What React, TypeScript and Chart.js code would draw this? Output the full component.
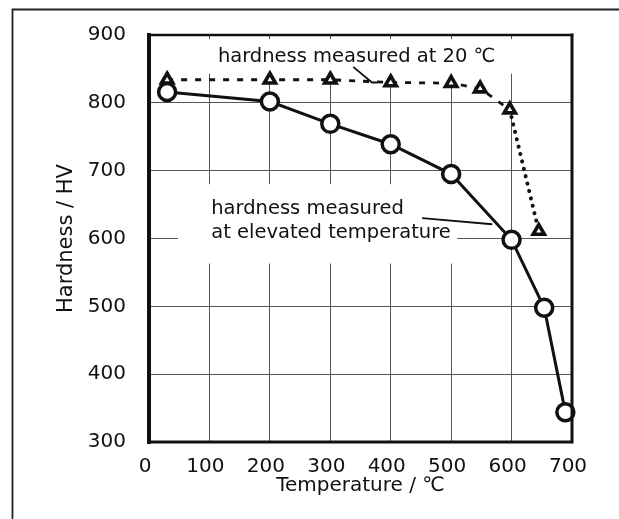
import React, { useEffect, useRef } from "react";
import { Chart, registerables } from "chart.js";

Chart.register(...registerables);

// Data (temperature in °C, hardness in HV)
const hotTemps = [30, 200, 300, 400, 500, 600, 654, 689];
const hotHardness = [816, 802, 769, 739, 695, 598, 498, 344];
const roomTemps = [30, 200, 300, 400, 500, 548, 597, 645];
const roomHardness = [834, 834, 834, 830, 829, 821, 790, 611];

const xTicks = [0, 100, 200, 300, 400, 500, 600, 700];
const yTicks = [300, 400, 500, 600, 700, 800, 900];

const xTitle = "Temperature / \u2103";
const yTitle = "Hardness / HV";
const roomLabel = ["hardness measured at 20 \u2103"];
const hotLabel = ["hardness measured", "at elevated temperature"];

const FONT = "DejaVu Sans";
const INK = "#111111";

const annotationPlugin = {
  id: "annotations",
  beforeDatasetsDraw(chart: any) {
    const { ctx } = chart;
    const xs = chart.scales.x;
    const ys = chart.scales.y;
    const px = (v: number) => xs.getPixelForValue(v);
    const py = (v: number) => ys.getPixelForValue(v);
    ctx.save();
    // white label boxes that hide the grid
    ctx.fillStyle = "#ffffff";
    ctx.fillRect(px(10), py(894), px(650) - px(10), py(843) - py(894));
    ctx.fillRect(px(48), py(680), px(510) - px(48), py(563) - py(680));
    // leader lines
    ctx.strokeStyle = INK;
    ctx.lineWidth = 1.8;
    ctx.beginPath();
    ctx.moveTo(px(338), py(853));
    ctx.lineTo(px(369), py(830));
    ctx.lineTo(px(378), py(830));
    ctx.stroke();
    ctx.beginPath();
    ctx.moveTo(px(452), py(630));
    ctx.lineTo(px(568), py(621));
    ctx.stroke();
    // texts
    ctx.fillStyle = INK;
    ctx.font = `19.5px "${FONT}"`;
    ctx.textAlign = "left";
    ctx.textBaseline = "alphabetic";
    ctx.fillText(roomLabel[0], px(114), py(860));
    ctx.fillText(hotLabel[0], px(103), py(636));
    ctx.fillText(hotLabel[1], px(103), py(601));
    ctx.restore();
  },
  afterDatasetsDraw(chart: any) {
    const { ctx, chartArea } = chart;
    const { left, right, top, bottom } = chartArea;
    ctx.save();
    ctx.strokeStyle = "#111";
    ctx.lineCap = "square";
    ctx.lineWidth = 2.5;
    ctx.beginPath();
    ctx.moveTo(left, top);
    ctx.lineTo(right, top);
    ctx.stroke();
    ctx.lineWidth = 3;
    ctx.beginPath();
    ctx.moveTo(right, top);
    ctx.lineTo(right, bottom);
    ctx.lineTo(left, bottom);
    ctx.stroke();
    ctx.lineWidth = 4;
    ctx.beginPath();
    ctx.moveTo(left, top);
    ctx.lineTo(left, bottom);
    ctx.stroke();
    // outer frame
    ctx.strokeStyle = "#222";
    ctx.lineWidth = 1.8;
    ctx.lineCap = "butt";
    ctx.beginPath();
    ctx.moveTo(12.5, chart.height);
    ctx.lineTo(12.5, 9.5);
    ctx.lineTo(chart.width, 9.5);
    ctx.stroke();
    ctx.restore();
  },
};

export default function App() {
  const canvasRef = useRef<HTMLCanvasElement | null>(null);

  useEffect(() => {
    document.body.style.margin = "0";
    const canvas = canvasRef.current;
    if (!canvas) return;
    const chart = new Chart(canvas, {
      type: "line",
      data: {
        datasets: [
          {
            label: "room",
            data: roomTemps.map((t, i) => ({ x: t, y: roomHardness[i] })),
            borderColor: INK,
            borderWidth: 2.8,
            borderDash: [6, 8],
            pointStyle: "triangle",
            pointRadius: 6.5,
            pointBorderWidth: 3.6,
            pointBackgroundColor: "#ffffff",
            pointBorderColor: INK,
            clip: false,
            segment: {
              borderDash: (c: any) => (c.p0.parsed.x >= 590 ? [0.1, 7.5] : undefined),
              borderCapStyle: (c: any) => (c.p0.parsed.x >= 590 ? "round" : undefined),
              borderWidth: (c: any) => (c.p0.parsed.x >= 590 ? 4 : undefined),
            },
          } as any,
          {
            label: "hot",
            data: hotTemps.map((t, i) => ({ x: t, y: hotHardness[i] })),
            borderColor: INK,
            borderWidth: 3,
            pointStyle: "circle",
            pointRadius: 8.5,
            pointBorderWidth: 3.5,
            pointBackgroundColor: "#ffffff",
            pointBorderColor: INK,
            clip: false,
          } as any,
        ],
      },
      options: {
        animation: false,
        responsive: false,
        events: [],
        layout: { padding: { left: 0, right: 47, top: 33, bottom: 0 } },
        plugins: { legend: { display: false }, tooltip: { enabled: false } },
        scales: {
          x: {
            type: "linear",
            min: xTicks[0],
            max: xTicks[xTicks.length - 1],
            afterBuildTicks: (s: any) => {
              s.ticks = xTicks.map((v) => ({ value: v }));
            },
            afterFit: (s: any) => {
              s.height = 77;
            },
            ticks: {
              font: { family: FONT, size: 20 },
              color: INK,
              padding: 13,
              labelOffset: -4,
              maxRotation: 0,
              autoSkip: false,
            },
            grid: { color: "#555", lineWidth: 1, drawTicks: false },
            border: { display: false },
            title: {
              display: true,
              text: xTitle,
              font: { family: FONT, size: 20 },
              color: INK,
              padding: { top: 0, bottom: 21 },
            },
          },
          y: {
            type: "linear",
            min: yTicks[0],
            max: yTicks[yTicks.length - 1],
            afterBuildTicks: (s: any) => {
              s.ticks = yTicks.map((v) => ({ value: v }));
            },
            afterFit: (s: any) => {
              s.width = 149;
            },
            ticks: {
              font: { family: FONT, size: 20 },
              color: INK,
              padding: 23,
              autoSkip: false,
            },
            grid: { color: "#555", lineWidth: 1, drawTicks: false },
            border: { display: false },
            title: {
              display: true,
              text: yTitle,
              font: { family: FONT, size: 21 },
              color: INK,
              padding: { top: 54, bottom: 0 },
            },
          },
        },
      } as any,
      plugins: [annotationPlugin],
    });
    return () => chart.destroy();
  }, []);

  return (
    <div style={{ position: "relative", width: 619, height: 519 }}>
      <canvas ref={canvasRef} width={619} height={519} style={{ display: "block" }} />
    </div>
  );
}
